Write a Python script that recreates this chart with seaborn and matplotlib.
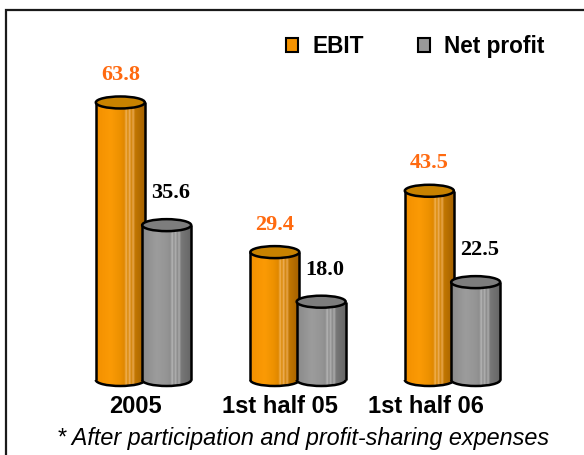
import numpy as np
import pandas as pd
import matplotlib
matplotlib.use("Agg")
import matplotlib.pyplot as plt
import seaborn as sns
from matplotlib.patches import Ellipse, Arc, Rectangle, Patch
from matplotlib.colors import to_rgb

# ---- data ----
categories = ["2005", "1st half 05", "1st half 06"]
series = ["EBIT", "Net profit"]
ebit = [63.8, 29.4, 43.5]
net_profit = [35.6, 18.0, 22.5]
caption = "* After participation and profit-sharing expenses"

df = pd.DataFrame({
    "category": categories * 2,
    "series": [series[0]] * len(categories) + [series[1]] * len(categories),
    "value": ebit + net_profit,
})

sns.set_theme(style="white")
plt.rcParams["font.family"] = ["Liberation Sans", "DejaVu Sans"]
plt.rcParams["text.color"] = "black"

W_PX, H_PX = 584, 455
fig = plt.figure(figsize=(W_PX / 100, H_PX / 100), dpi=100)
fig.patch.set_facecolor("white")
ax = fig.add_axes([0, 0, 1, 1])

orange = "#F59300"
gray = "#959595"
sns.barplot(data=df, x="category", y="value", hue="series", order=categories,
            hue_order=series, palette=[orange, gray], width=0.6, dodge=True,
            saturation=1, legend=False, errorbar=None, ax=ax)

# pixel-based layout mapping
x0_px, unit_x = 143.5, 154.5
base_px, unit_y = 380.0, 4.35
xlim = (-x0_px / unit_x, (W_PX - x0_px) / unit_x)
ylim = (-(H_PX - base_px) / unit_y, base_px / unit_y)

def gradient(nodes, n=240):
    pos = np.array([p for p, _ in nodes])
    cols = np.array([to_rgb(c) for _, c in nodes])
    t = np.linspace(0, 1, n)
    arr = np.stack([np.interp(t, pos, cols[:, k]) for k in range(3)], axis=-1)
    return arr[np.newaxis, :, :]

grad_orange = gradient([(0.0, "#F39000"), (0.30, "#FB9A05"), (0.50, "#EC9000"),
                        (0.58, "#E08800"), (0.62, "#F2B45A"), (0.65, "#D98600"),
                        (0.69, "#F0B466"), (0.72, "#D08000"), (0.76, "#E9A850"),
                        (0.80, "#C27600"), (1.0, "#A46200")])
grad_gray = gradient([(0.0, "#8A8A8A"), (0.30, "#9C9C9C"), (0.50, "#959595"),
                      (0.58, "#8E8E8E"), (0.62, "#B8B8B8"), (0.65, "#8C8C8C"),
                      (0.69, "#B4B4B4"), (0.72, "#868686"), (0.76, "#ADADAD"),
                      (0.80, "#787878"), (1.0, "#666666")])
grads = [grad_orange, grad_gray]
tops = ["#C88200", "#7D7D7D"]
label_colors = ["#FF6A10", "black"]
label_dx = [0.0, 0.025]
label_dy = [6.3, 7.3]

bar_w = 49 / unit_x
ell_h = 12 / unit_y
lw = 1.8

for s, cont in enumerate(ax.containers):
    base_z = 2 + s * 5
    for bar in cont:
        h = bar.get_height()
        cx = bar.get_x() + bar.get_width() / 2
        bar.set_x(cx - bar_w / 2)
        bar.set_width(bar_w)
        bar.set_facecolor("none")
        bar.set_edgecolor("none")
        bar.set_linewidth(0)
        xl, xr = cx - bar_w / 2, cx + bar_w / 2
        # body gradient
        im = ax.imshow(grads[s], extent=[xl, xr, 0, h], aspect="auto",
                       interpolation="bilinear", zorder=base_z)
        im.set_clip_path(bar)
        # bottom ellipse gradient
        bot = Ellipse((cx, 0), bar_w, ell_h, transform=ax.transData,
                      facecolor="none", edgecolor="none")
        ax.add_patch(bot)
        im2 = ax.imshow(grads[s], extent=[xl, xr, -ell_h / 2, ell_h / 2],
                        aspect="auto", interpolation="bilinear", zorder=base_z)
        im2.set_clip_path(bot)
        # outlines
        ax.plot([xl, xl], [0, h], color="black", lw=lw, zorder=base_z + 1,
                solid_capstyle="butt")
        ax.plot([xr, xr], [0, h], color="black", lw=lw, zorder=base_z + 1,
                solid_capstyle="butt")
        ax.add_patch(Arc((cx, 0), bar_w, ell_h, theta1=180, theta2=360,
                         color="black", lw=lw, zorder=base_z + 1))
        # top ellipse
        ax.add_patch(Ellipse((cx, h), bar_w, ell_h, facecolor=tops[s],
                             edgecolor="black", lw=lw, zorder=base_z + 2))
        # value label
        ax.text(cx + label_dx[s], h + label_dy[s], f"{h:.1f}", ha="center",
                va="center", color=label_colors[s], fontsize=16,
                fontweight="bold", family=["Liberation Serif", "DejaVu Serif"],
                zorder=20)

# category labels
for i, c in enumerate(categories):
    ax.text(-0.055 + 0.94 * i, -(413 - base_px) / unit_y, c, ha="center",
            va="baseline", fontsize=17, fontweight="bold", color="black")

ax.set_xlim(*xlim)
ax.set_ylim(*ylim)
ax.axis("off")

# legend
handles = [Patch(facecolor=orange, edgecolor="black", lw=1.5),
           Patch(facecolor="#999999", edgecolor="black", lw=1.5)]
fig.legend(handles, series, loc="upper left",
           bbox_to_anchor=(286 / W_PX, 1 - 35 / H_PX), ncol=2, frameon=False,
           handlelength=0.53, handleheight=0.53, handletextpad=0.62,
           columnspacing=2.39, borderpad=0, borderaxespad=0, labelcolor="black",
           prop={"weight": "bold", "size": 16.3})

# caption
fig.text(303 / W_PX, 1 - 445 / H_PX, caption, ha="center", va="baseline",
         fontsize=16.8, fontstyle="italic", color="black")

# frame
fig.add_artist(Rectangle((5.5 / W_PX, -0.1), 1.2, 1.1 - 10 / H_PX,
                         transform=fig.transFigure, fill=False,
                         edgecolor="#1a1a1a", lw=1.6))

fig.savefig("out.png", dpi=100, facecolor="white")
